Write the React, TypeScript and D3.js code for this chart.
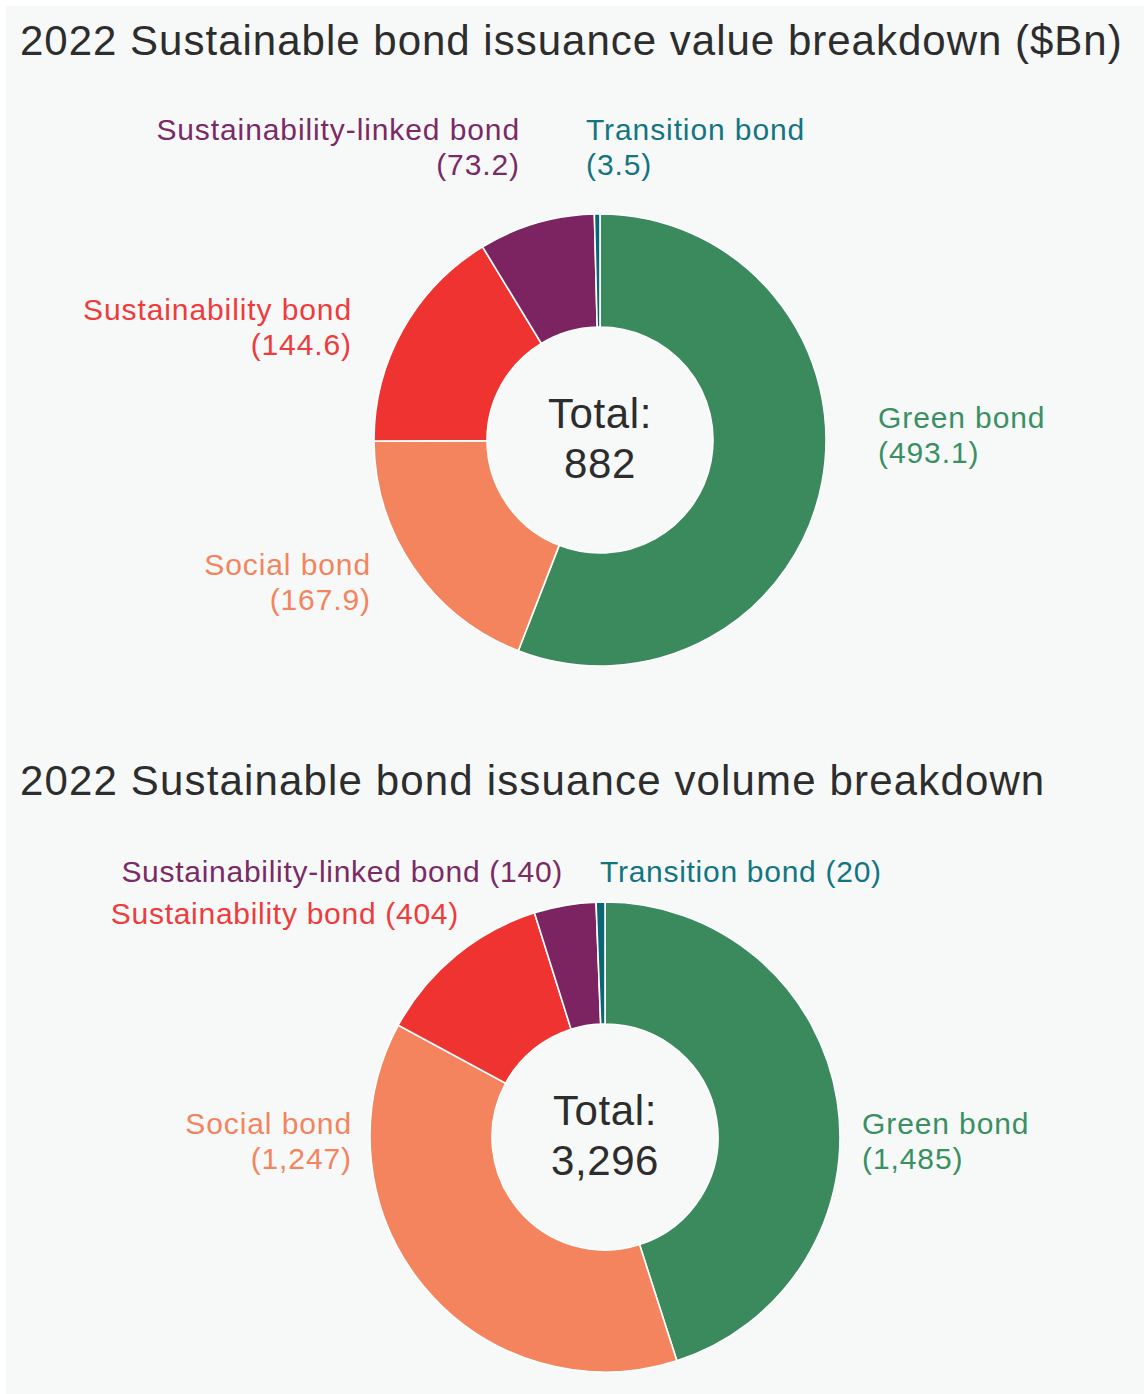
import React from "react";
import * as d3 from "d3";

const categories = ["Green bond", "Social bond", "Sustainability bond", "Sustainability-linked bond", "Transition bond"];
const valueSeries = [493.1, 167.9, 144.6, 73.2, 3.5];
const volumeSeries = [1485, 1247, 404, 140, 20];
const valueLabels = ["(493.1)", "(167.9)", "(144.6)", "(73.2)", "(3.5)"];
const volumeLabels = ["(1,485)", "(1,247)", "(404)", "(140)", "(20)"];
const totals = ["882", "3,296"];
const titles = [
  "2022 Sustainable bond issuance value breakdown ($Bn)",
  "2022 Sustainable bond issuance volume breakdown",
];

const sliceColors = ["#3a8a5d", "#f3845e", "#ee3331", "#7b2461", "#0b6673"];
const textColors = ["#3a9062", "#f3845e", "#ef3b3b", "#7b2a66", "#137582"];

const W = 1144;
const H = 1394;
const FONT = "'Liberation Sans', Arial, Helvetica, sans-serif";
const LS = 0.9;

type Lbl = { idx: number; x: number; y: number; anchor: "start" | "end"; inline?: boolean };

function Donut({ values, labels, cx, cy, r0, r1, total, lbls }: {
  values: number[]; labels: string[]; cx: number; cy: number; r0: number; r1: number; total: string; lbls: Lbl[];
}) {
  const pie = d3.pie<number>().sort(null).value((d) => d);
  const arcs = pie(values);
  const arc = d3.arc<d3.PieArcDatum<number>>().innerRadius(r0).outerRadius(r1);
  return (
    <g>
      <g transform={`translate(${cx},${cy})`}>
        {arcs.map((a, i) => (
          <path key={i} d={arc(a) || ""} fill={sliceColors[i]} stroke="#ffffff" strokeWidth={1.6} />
        ))}
        <text x={0} y={-12} textAnchor="middle" fontSize={42} fill="#2d2d2d" fontFamily={FONT} letterSpacing={0.6}>Total:</text>
        <text x={0} y={38} textAnchor="middle" fontSize={42} fill="#2d2d2d" fontFamily={FONT} letterSpacing={0.6}>{total}</text>
      </g>
      {lbls.map((l, k) =>
        l.inline ? (
          <text key={k} x={l.x} y={l.y} textAnchor={l.anchor} fontSize={30} fill={textColors[l.idx]} fontFamily={FONT} letterSpacing={LS * 0.8}>
            {categories[l.idx] + " " + labels[l.idx]}
          </text>
        ) : (
          <g key={k}>
            <text x={l.x} y={l.y} textAnchor={l.anchor} fontSize={30} fill={textColors[l.idx]} fontFamily={FONT} letterSpacing={LS}>
              {categories[l.idx]}
            </text>
            <text x={l.x} y={l.y + 35} textAnchor={l.anchor} fontSize={30} fill={textColors[l.idx]} fontFamily={FONT} letterSpacing={LS}>
              {labels[l.idx]}
            </text>
          </g>
        )
      )}
    </g>
  );
}

export default function App() {
  return (
    <div style={{ position: "absolute", left: 0, top: 0, width: W, height: H, background: "#ffffff" }}>
      <svg width={W} height={H} style={{ display: "block" }}>
        <rect x={6} y={6} width={W - 6} height={H - 6} fill="#f7f9f9" />
        <text x={20} y={55} fontSize={42} fill="#2d2d2d" fontFamily={FONT} letterSpacing={1.0}>{titles[0]}</text>
        <text x={20} y={795} fontSize={42} fill="#2d2d2d" fontFamily={FONT} letterSpacing={1.15}>{titles[1]}</text>
        <Donut
          values={valueSeries}
          labels={valueLabels}
          cx={600}
          cy={440}
          r0={113}
          r1={226}
          total={totals[0]}
          lbls={[
            { idx: 3, x: 520, y: 140, anchor: "end" },
            { idx: 4, x: 586, y: 140, anchor: "start" },
            { idx: 2, x: 352, y: 320, anchor: "end" },
            { idx: 1, x: 371, y: 575, anchor: "end" },
            { idx: 0, x: 878, y: 428, anchor: "start" },
          ]}
        />
        <Donut
          values={volumeSeries}
          labels={volumeLabels}
          cx={605}
          cy={1137}
          r0={113}
          r1={235}
          total={totals[1]}
          lbls={[
            { idx: 3, x: 563, y: 882, anchor: "end", inline: true },
            { idx: 4, x: 600, y: 882, anchor: "start", inline: true },
            { idx: 2, x: 459, y: 924, anchor: "end", inline: true },
            { idx: 1, x: 352, y: 1134, anchor: "end" },
            { idx: 0, x: 862, y: 1134, anchor: "start" },
          ]}
        />
      </svg>
    </div>
  );
}
